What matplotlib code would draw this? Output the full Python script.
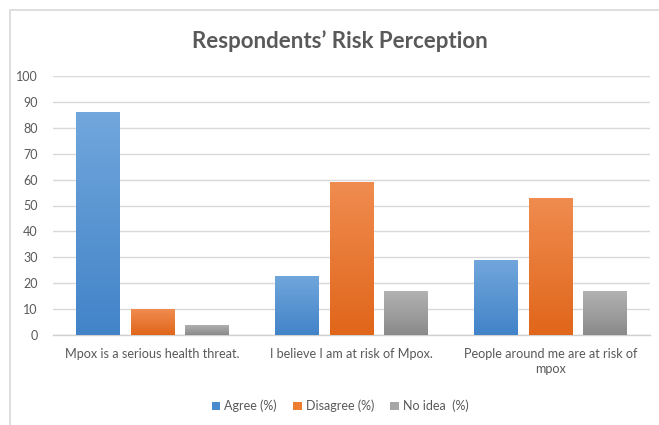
import numpy as np
import matplotlib
matplotlib.use("Agg")
import matplotlib.pyplot as plt
from matplotlib.colors import LinearSegmentedColormap
from matplotlib.patches import Rectangle, Patch

plt.rcParams['font.family'] = ['Lato', 'DejaVu Sans']

categories = ["Mpox is a serious health threat.",
              "I believe I am at risk of Mpox.",
              "People around me are at risk of\nmpox"]
series_names = ["Agree (%)", "Disagree (%)", "No idea  (%)"]
agree = [86, 23, 29]
disagree = [10, 59, 53]
no_idea = [4, 17, 17]
y_ticks = [0, 10, 20, 30, 40, 50, 60, 70, 80, 90, 100]

# (top colour, bottom colour, legend colour) per series
shades = [("#71a7dc", "#4283c8", "#4a8bd0"),
          ("#f08c50", "#e0661a", "#ed7d31"),
          ("#b3b3b3", "#8a8a8a", "#a5a5a5")]

text_col = "#595959"

fig = plt.figure(figsize=(6.59, 4.25), dpi=100)
fig.patch.set_facecolor("white")

# chart frame
fig.add_artist(Rectangle((10 / 659, -0.1), 1.2, 1 - 10 / 425 + 0.1,
                         transform=fig.transFigure, fill=False,
                         edgecolor="#d9d9d9", linewidth=1.2))

ax = fig.add_axes([53 / 659, 89.7 / 425, 597 / 659, 259.6 / 425])
ax.set_xlim(-0.5, 2.5)
ax.set_ylim(0, 100)

x = np.arange(len(categories))
width = 0.221
offset = 0.276
series = [agree, disagree, no_idea]

grad = np.linspace(1, 0, 256).reshape(-1, 1)
for i, (vals, (top, bot, leg)) in enumerate(zip(series, shades)):
    bars = ax.bar(x + (i - 1) * offset, vals, width, color="none",
                  edgecolor="none", zorder=3)
    cmap = LinearSegmentedColormap.from_list(f"g{i}", [bot, top])
    for b in bars:
        x0, y0 = b.get_x(), b.get_y()
        w, h = b.get_width(), b.get_height()
        im = ax.imshow(grad, cmap=cmap, aspect="auto",
                       extent=(x0, x0 + w, y0, y0 + h), zorder=3,
                       interpolation="bilinear", vmin=0, vmax=1)
        im.set_clip_path(b)

ax.set_xlim(-0.5, 2.5)
ax.set_ylim(0, 100)
ax.set_yticks(y_ticks)
ax.set_yticklabels([str(t) for t in y_ticks])
ax.set_xticks(x)
ax.set_xticklabels(categories, linespacing=1.35)
ax.tick_params(axis="both", length=0, labelcolor=text_col)
ax.tick_params(axis="y", pad=11, labelsize=9)
ax.tick_params(axis="x", pad=9, labelsize=9.1)
ax.grid(axis="y", color="#d9d9d9", linewidth=1, zorder=0)
ax.set_axisbelow(True)
for s in ["top", "right", "left"]:
    ax.spines[s].set_visible(False)
ax.spines["bottom"].set_color("#d0d0d0")
ax.spines["bottom"].set_linewidth(1)

fig.text(340 / 659, 1 - 41 / 425, "Respondents\u2019 Risk Perception",
         ha="center", va="center", fontsize=16, fontweight="bold",
         color=text_col)

handles = [Patch(facecolor=s[2], edgecolor="none") for s in shades]
fig.legend(handles, series_names, loc="center",
           bbox_to_anchor=(340 / 659, 1 - 406 / 425), ncol=3, frameon=False,
           fontsize=9, labelcolor=text_col, handlelength=0.7,
           handleheight=0.7, handletextpad=0.3, columnspacing=1.3)

fig.savefig("out.png", dpi=100, facecolor="white")
